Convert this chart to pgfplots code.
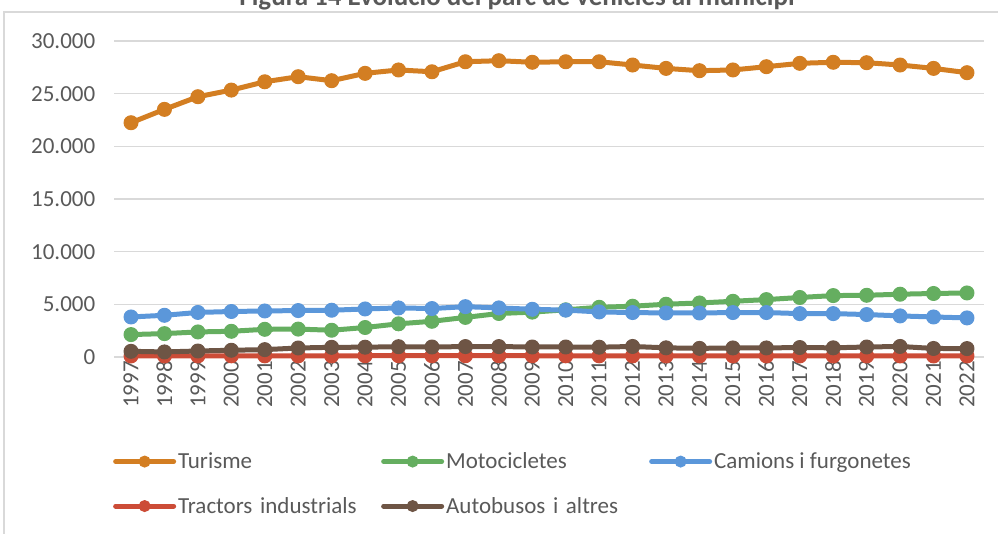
\documentclass[border=0pt]{standalone}
\usepackage{pgfplots}
\pgfplotsset{compat=1.18}
\usepackage{fontspec}
\setmainfont{Carlito}

\definecolor{cTur}{HTML}{D37E22}
\definecolor{cMoto}{HTML}{65AE60}
\definecolor{cCam}{HTML}{5B97DA}
\definecolor{cTrac}{HTML}{CC4C37}
\definecolor{cAuto}{HTML}{6E5545}
\definecolor{gridgray}{HTML}{D9D9D9}
\definecolor{textgray}{HTML}{595959}

% Parc de vehicles per any
\pgfplotstableread{
any  tur    moto  cam   trac auto
1997 22240  2130  3800  100  540
1998 23510  2220  3960  100  480
1999 24710  2380  4230  100  570
2000 25340  2440  4320  110  640
2001 26130  2630  4370  110  700
2002 26610  2650  4410  110  855
2003 26230  2540  4440  110  920
2004 26930  2800  4560  120  930
2005 27250  3150  4660  120  980
2006 27080  3390  4600  120  950
2007 28030  3760  4780  120  990
2008 28130  4130  4660  120  990
2009 27980  4260  4530  120  950
2010 28030  4480  4450  110  950
2011 28030  4720  4280  110  930
2012 27720  4820  4220  110  1000
2013 27400  5010  4180  100  870
2014 27180  5130  4180  100  820
2015 27250  5290  4220  100  860
2016 27560  5450  4220  100  860
2017 27880  5650  4120  100  900
2018 27980  5830  4120  100  870
2019 27940  5860  4030  100  950
2020 27720  5960  3900  100  1000
2021 27400  6030  3800  100  810
2022 26990  6080  3710  100  800
}\dades

\begin{document}
\begin{tikzpicture}
\useasboundingbox (0pt,0pt) rectangle (998pt,-534pt);
\draw[gridgray, line width=1.5pt] (4pt,-540pt) -- (4pt,-12pt) -- (1004pt,-12pt);
\node[font=\fontsize{27}{32}\selectfont\bfseries, text=textgray, anchor=base]
  at (517pt,-6pt) {Figura 14 Evolució del parc de vehicles al municipi};
\begin{axis}[
    at={(114.3pt,-357pt)}, anchor=south west,
    width=869.4pt, height=316pt, scale only axis,
    xmin=1996.5, xmax=2022.5, ymin=0, ymax=30000,
    clip=false,
    axis line style={draw=none},
    tick style={draw=none},
    ymajorgrids,
    major grid style={gridgray, line width=1.5pt},
    xtick={1997,...,2022},
    ytick={0,5000,...,30000},
    scaled y ticks=false,
    yticklabel style={font=\fontsize{23}{27}\selectfont, text=textgray, xshift=-15.5pt,
      /pgf/number format/.cd, 1000 sep={.}, assume math mode=true},
    xticklabel style={font=\fontsize{23}{27}\selectfont, text=textgray, rotate=90, anchor=east,
      inner xsep=4pt,
      /pgf/number format/.cd, 1000 sep={}, assume math mode=true},
    every axis plot/.append style={line width=5pt, mark=*, mark size=7pt,
      line join=round, line cap=round, mark options={line width=1pt}},
    legend columns=3,
    legend cell align=left,
    legend style={at={(-0.005,-0.29)}, anchor=north west, draw=none, fill=none,
      font=\fontsize{23}{27}\selectfont, text=textgray, row sep=23pt,
      /tikz/every even column/.append style={inner xsep=0pt, xshift=-5pt},
      /tikz/column 2/.append style={text width=201pt, align=left},
      /tikz/column 4/.append style={text width=201pt, align=left}},
    legend image code/.code={\draw[#1, mark size=5.5pt, mark repeat=2, mark phase=2]
      plot coordinates {(0pt,0pt) (29pt,0pt) (58pt,0pt)};},
]
\addplot[cTur]  table[x=any, y=tur]  {\dades};
\addplot[cMoto] table[x=any, y=moto] {\dades};
\addplot[cCam]  table[x=any, y=cam]  {\dades};
\addplot[cTrac] table[x=any, y=trac] {\dades};
\addplot[cAuto] table[x=any, y=auto] {\dades};
\legend{Turisme, Motocicletes, Camions i furgonetes, Tractors industrials, Autobusos i altres}
\end{axis}
\end{tikzpicture}
\end{document}
